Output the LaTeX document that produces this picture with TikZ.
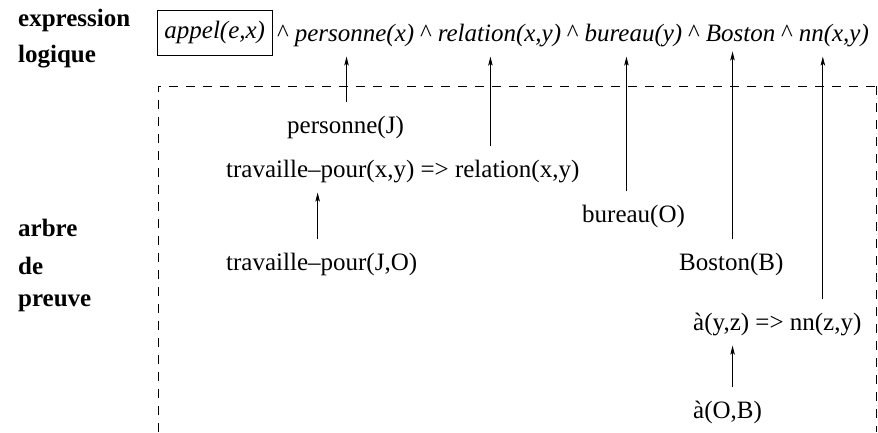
\documentclass[tikz,border=0pt]{standalone}
\usepackage{fontspec}
\setmainfont{Liberation Serif}
\usetikzlibrary{arrows.meta}
\begin{document}
\begin{tikzpicture}[x=1pt,y=-1pt,
  txt/.style={inner sep=0pt, font=\fontsize{25}{30}\selectfont, anchor=base west},
  term/.style={txt, font=\fontsize{25}{30}\selectfont\itshape},
  hat/.style={txt, font=\fontsize{25}{30}\selectfont\upshape},
  lbl/.style={txt, font=\fontsize{25}{30}\selectfont\bfseries},
  arr/.style={-{Stealth[length=9pt,width=4.5pt,inset=2pt]}, line width=0.8pt, shorten <=13pt, shorten >=10pt},
  frame/.style={dash pattern=on 9pt off 8pt, line width=0.8pt}]
\useasboundingbox (0,0) rectangle (878,432);

% labels
\node[lbl] (l1) at (18,26) {expression};
\node[lbl] (l2) at (18,62) {logique};
\node[lbl] (l3) at (18,236) {arbre};
\node[lbl] (l4) at (18,274) {de};
\node[lbl] (l5) at (18,306) {preuve};

% logical expression
\node[term, draw, anchor=west, inner xsep=7pt, minimum height=45pt, line width=0.8pt] (app) at (157,32.5) {appel(e,x)};
\node[hat] (h1) at (277,41) {\textasciicircum};
\node[term] (pers) at ([xshift=5.5pt]h1.base east) {personne(x)};
\node[hat] (h2) at ([xshift=5.5pt]pers.base east) {\textasciicircum};
\node[term] (rel) at ([xshift=5.5pt]h2.base east) {relation(x,y)};
\node[hat] (h3) at ([xshift=5.5pt]rel.base east) {\textasciicircum};
\node[term] (bur) at ([xshift=5.5pt]h3.base east) {bureau(y)};
\node[hat] (h4) at ([xshift=5.5pt]bur.base east) {\textasciicircum};
\node[term] (bos) at ([xshift=5.5pt]h4.base east) {Boston};
\node[hat] (h5) at ([xshift=5.5pt]bos.base east) {\textasciicircum};
\node[term] (nn) at ([xshift=5.5pt]h5.base east) {nn(x,y)};

% dashed frame
\draw[frame] (158,432) -- (158,86) -- (878,86);
\draw[frame] (876,86) -- (876,432);

% proof tree
\node[txt] (pJ) at (287,133) {personne(J)};
\node[txt] (tr) at (226,177) {travaille–pour(x,y) => relation(x,y)};
\node[txt] (bO) at (582,222) {bureau(O)};
\node[txt] (tJ) at (226,270) {travaille–pour(J,O)};
\node[txt] (bB) at (679,270) {Boston(B)};
\node[txt] (ayz) at (693,330) {à(y,z) => nn(z,y)};
\node[txt] (aOB) at (693,418) {à(O,B)};

% arrow targets
\coordinate (tP) at ([xshift=-8pt]pers.south);
\coordinate (tR) at ([xshift=-9pt]rel.south);
\coordinate (tB) at ([xshift=-7pt]bur.south);
\coordinate (tS) at ([xshift=-8pt]bos.south);
\coordinate (tN) at ([xshift=-11pt]nn.south);
\coordinate (sJ) at ([xshift=-4pt]tJ.north);
\coordinate (sO) at ([xshift=5pt]aOB.north);

\draw[arr] (pJ.north -| tP) -- (tP);
\draw[arr] (tr.north -| tR) -- (tR);
\draw[arr] (bO.north -| tB) -- (tB);
\draw[arr] (bB.north -| tS) -- (tS);
\draw[arr] (ayz.north -| tN) -- (tN);
\draw[arr] (sJ) -- (sJ |- tr.south);
\draw[arr] (sO) -- (sO |- ayz.south);
\end{tikzpicture}
\end{document}
